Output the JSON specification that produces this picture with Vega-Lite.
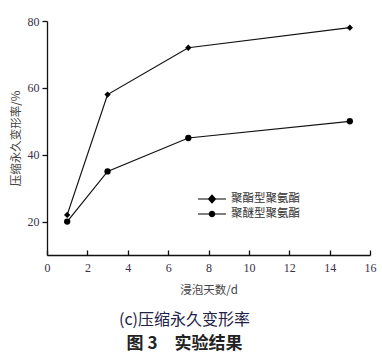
{
  "$schema": "https://vega.github.io/schema/vega-lite/v6.json",
  "autosize": "none",
  "width": 323,
  "height": 234,
  "padding": {"left": 47, "top": 21, "right": 12, "bottom": 102},
  "background": "white",
  "config": {
    "view": {"stroke": null},
    "axis": {"grid": false, "domainColor": "#111", "domainWidth": 1.3, "tickColor": "#111", "tickWidth": 1.3,
             "labelFont": "Liberation Serif", "labelFontSize": 12, "labelColor": "#3a3048",
             "titleFont": "Noto Sans CJK SC", "titleFontSize": 11.5, "titleFontWeight": "normal", "titleColor": "#444"}
  },
  "title": {
    "text": "(c)压缩永久变形率",
    "subtitle": "图 3　实验结果",
    "orient": "bottom",
    "anchor": "middle",
    "dx": -24,
    "offset": 16,
    "font": "Noto Sans CJK SC",
    "fontSize": 16,
    "fontWeight": "normal",
    "color": "#222244",
    "subtitleFont": "Noto Sans CJK SC",
    "subtitleFontSize": 17,
    "subtitleFontWeight": "bold",
    "subtitleColor": "#222",
    "subtitlePadding": 8
  },
  "data": {"values": [
    {"type": "聚酯型聚氨酯", "day": 1, "rate": 22},
    {"type": "聚酯型聚氨酯", "day": 3, "rate": 58},
    {"type": "聚酯型聚氨酯", "day": 7, "rate": 72},
    {"type": "聚酯型聚氨酯", "day": 15, "rate": 78},
    {"type": "聚醚型聚氨酯", "day": 1, "rate": 20},
    {"type": "聚醚型聚氨酯", "day": 3, "rate": 35},
    {"type": "聚醚型聚氨酯", "day": 7, "rate": 45},
    {"type": "聚醚型聚氨酯", "day": 15, "rate": 50}
  ]},
  "encoding": {
    "x": {"field": "day", "type": "quantitative",
          "scale": {"domain": [0, 16], "nice": false},
          "axis": {"title": "浸泡天数/d", "values": [0, 2, 4, 6, 8, 10, 12, 14, 16], "tickSize": -5, "labelPadding": 12, "titlePadding": 11, "labelFlush": false}},
    "y": {"field": "rate", "type": "quantitative",
          "scale": {"domain": [10, 80], "nice": false, "zero": false},
          "axis": {"title": "压缩永久变形率/%", "values": [20, 40, 60, 80], "tickSize": 5, "labelPadding": 3, "titlePadding": 6, "labelFlush": false}}
  },
  "resolve": {"scale": {"shape": "independent"}, "legend": {"shape": "independent"}},
  "layer": [
    {
      "mark": {"type": "line", "color": "#111", "strokeWidth": 1.2},
      "encoding": {"detail": {"field": "type"}}
    },
    {
      "mark": {"type": "point", "filled": true, "color": "#000", "opacity": 1},
      "encoding": {
        "shape": {"field": "type", "type": "nominal",
                  "scale": {"domain": ["聚酯型聚氨酯", "聚醚型聚氨酯"], "range": ["diamond", "circle"]},
                  "legend": null},
        "size": {"value": 40}
      }
    },
    {
      "transform": [{"filter": "datum.day < 0"}],
      "mark": {"type": "point", "filled": false, "color": "#000", "opacity": 1, "strokeWidth": 1.2},
      "encoding": {
        "shape": {"field": "type", "type": "nominal",
                  "scale": {"domain": ["聚酯型聚氨酯", "聚醚型聚氨酯"],
                            "range": [
                              "M-2.33,0L2.33,0M0,-0.65L0.58,0L0,0.65L-0.58,0ZM0,-0.45L0.4,0L0,0.45L-0.4,0ZM0,-0.26L0.23,0L0,0.26L-0.23,0ZM0,-0.08L0.07,0L0,0.08L-0.07,0Z",
                              "M-2.33,0L2.33,0M0.45,0A0.45,0.45 0 1,1 -0.45,0A0.45,0.45 0 1,1 0.45,0ZM0.29,0A0.29,0.29 0 1,1 -0.29,0A0.29,0.29 0 1,1 0.29,0ZM0.13,0A0.13,0.13 0 1,1 -0.13,0A0.13,0.13 0 1,1 0.13,0Z"
                            ]},
                  "legend": {"title": null, "orient": "none", "legendX": 158, "legendY": 171,
                             "labelFont": "Noto Sans CJK SC", "labelFontSize": 11.5, "labelColor": "#333",
                             "symbolSize": 144, "labelOffset": 12, "rowPadding": 1,
                             "symbolStrokeColor": "#000", "symbolStrokeWidth": 1.2, "symbolOpacity": 1}},
        "size": {"value": 40}
      }
    }
  ]
}
